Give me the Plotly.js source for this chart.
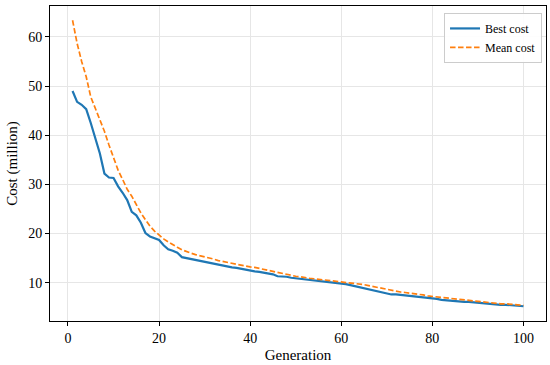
<!DOCTYPE html>
<html>
<head>
<meta charset="utf-8">
<script src="https://cdn.plot.ly/plotly-3.0.1.min.js"></script>
<style>html,body{margin:0;padding:0;background:#fff;}#chart{width:550px;height:365px;}</style>
</head>
<body>
<div id="chart"></div>
<script>
const generations = Array.from({length: 100}, (_, i) => i + 1);
const bestCost = [
  49.0, 46.8, 46.2, 45.3, 42.5, 39.5, 36.3, 32.2, 31.4, 31.3,
  29.6, 28.3, 26.8, 24.4, 23.7, 22.2, 20.1, 19.4, 19.0, 18.7,
  17.6, 16.8, 16.5, 16.1, 15.2, 15.0, 14.9, 14.7, 14.5, 14.3,
  14.1, 13.8, 13.6, 13.4, 13.2, 13.1, 13.0, 12.8, 12.6, 12.4,
  12.3, 12.2, 12.0, 11.9, 11.7, 11.3, 11.3, 11.2, 11.0, 10.9,
  10.8, 10.7, 10.6, 10.5, 10.4, 10.3, 10.1, 10.0, 9.9, 9.8,
  9.7, 9.5, 9.3, 9.1, 8.9, 8.7, 8.5, 8.3, 8.1, 7.9,
  7.6, 7.6, 7.5, 7.5, 7.4, 7.3, 7.2, 7.1, 6.9, 6.8,
  6.7, 6.5, 6.4, 6.3, 6.3, 6.2, 6.1, 6.1, 6.0, 5.9,
  5.8, 5.7, 5.7, 5.6, 5.5, 5.5, 5.4, 5.3, 5.3, 5.2
];
const meanCost = [
  63.4, 58.7, 55.0, 51.9, 47.8, 45.5, 43.1, 40.8, 38.0, 35.4,
  32.9, 31.0, 29.0, 27.6, 25.8, 24.2, 22.8, 21.5, 20.5, 19.6,
  18.9, 18.3, 17.7, 17.2, 16.7, 16.3, 16.0, 15.7, 15.5, 15.2,
  15.0, 14.8, 14.5, 14.3, 14.1, 13.9, 13.7, 13.6, 13.4, 13.2,
  13.1, 12.9, 12.7, 12.5, 12.3, 12.0, 11.9, 11.7, 11.5, 11.3,
  11.2, 11.0, 10.9, 10.8, 10.7, 10.6, 10.5, 10.4, 10.3, 10.2,
  10.1, 10.0, 9.9, 9.8, 9.6, 9.4, 9.2, 9.0, 8.8, 8.6,
  8.4, 8.3, 8.1, 8.0, 7.9, 7.8, 7.6, 7.5, 7.3, 7.2,
  7.1, 6.9, 6.8, 6.7, 6.6, 6.5, 6.4, 6.3, 6.3, 6.2,
  6.1, 6.0, 5.9, 5.8, 5.7, 5.7, 5.6, 5.5, 5.5, 5.4
];
const xTicks = [0, 20, 40, 60, 80, 100];
const yTicks = [10, 20, 30, 40, 50, 60];
const seriesNames = ["Best cost", "Mean cost"];

const font = "Liberation Serif, Times New Roman, serif";
const traces = [
  {x: generations, y: bestCost, name: seriesNames[0], type: "scatter", mode: "lines",
   line: {color: "#1f77b4", width: 2.2}},
  {x: generations, y: meanCost, name: seriesNames[1], type: "scatter", mode: "lines",
   line: {color: "#ff7f0e", width: 1.7, dash: "5.5px,2.5px"}}
];
const axisCommon = {
  showline: true, linecolor: "#000", linewidth: 1, mirror: true,
  ticks: "outside", ticklen: 4, tickcolor: "#000", tickwidth: 1,
  showgrid: true, gridcolor: "#e6e6e6", gridwidth: 1, zeroline: false,
  tickfont: {family: font, size: 14, color: "#000"}
};
const layout = {
  width: 550, height: 365,
  margin: {l: 50, r: 4, t: 6, b: 44},
  paper_bgcolor: "#fff", plot_bgcolor: "#fff",
  font: {family: font, color: "#000"},
  xaxis: Object.assign({}, axisCommon, {
    range: [-3.95, 104.95], tickvals: xTicks, ticktext: xTicks.map(String),
    title: {text: "Generation", font: {family: font, size: 15, color: "#000"}, standoff: 4}
  }),
  yaxis: Object.assign({}, axisCommon, {
    range: [2.2, 66.3], tickvals: yTicks, ticktext: yTicks.map(String),
    title: {text: "Cost (million)", font: {family: font, size: 15, color: "#000"}, standoff: 6}
  }),
  legend: {
    x: 0.992, y: 0.978, xanchor: "right", yanchor: "top",
    bgcolor: "rgba(255,255,255,0.9)", bordercolor: "#cccccc", borderwidth: 1,
    font: {family: font, size: 12, color: "#000"}, tracegroupgap: 0, itemwidth: 30
  },
  showlegend: true
};
Plotly.newPlot("chart", traces, layout, {displayModeBar: false, staticPlot: true});
</script>
</body>
</html>
